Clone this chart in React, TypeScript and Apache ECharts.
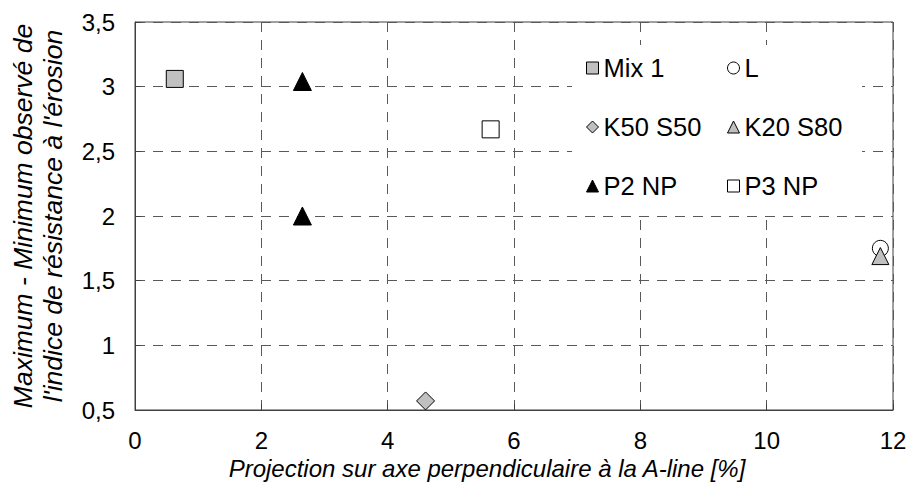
import React, { useEffect, useRef } from "react";
import * as echarts from "echarts";

const FONT = "'Liberation Sans', Arial, sans-serif";

const mix1: [number, number][] = [[0.63, 3.06]];
const lSeries: [number, number][] = [[11.8, 1.75]];
const k50s50: [number, number][] = [[4.6, 0.57]];
const k20s80: [number, number][] = [[11.8, 1.69]];
const p2np: [number, number][] = [[2.65, 3.04], [2.65, 2.0]];
const p3np: [number, number][] = [[5.63, 2.67]];

const legendCol1 = ["Mix 1", "K50 S50", "P2 NP"];
const legendCol2 = ["L", "K20 S80", "P3 NP"];

const xTitle = "Projection sur axe perpendiculaire à la A-line [%]";
const yTitle = "Maximum - Minimum observé de\nl'indice de résistance à l'érosion";

export default function App() {
  const ref = useRef<HTMLDivElement>(null);
  useEffect(() => {
    if (!ref.current) return;
    const chart = echarts.init(ref.current, undefined, { renderer: "svg" });
    const gridColor = "#595959";
    const legendCommon = {
      orient: "vertical" as const,
      itemWidth: 12,
      itemHeight: 12,
      itemGap: 33,
      itemStyle: { borderWidth: 1 },
      textStyle: { fontFamily: FONT, fontSize: 25.5, color: "#000", lineHeight: 25.5 },
      top: 50,
    };
    chart.setOption({
      animation: false,
      backgroundColor: "#fff",
      grid: {
        left: 135,
        right: 17,
        top: 22,
        bottom: 85,
        show: true,
        borderColor: "#404040",
        borderWidth: 1,
      },
      graphic: [
        {
          type: "rect",
          z: 1,
          shape: { x: 572, y: 45, width: 290, height: 167 },
          style: { fill: "#fff" },
        },
      ],
      legend: [
        { ...legendCommon, data: legendCol1, left: 581, itemTextGap: 8 } as any,
        { ...legendCommon, data: legendCol2, left: 722, itemTextGap: 8 } as any,
      ].map((l) => {
        const { itemTextGap, ...rest } = l;
        return rest;
      }),
      xAxis: {
        type: "value",
        min: 0,
        max: 12,
        interval: 2,
        name: xTitle,
        nameLocation: "middle",
        nameGap: 46,
        nameTextStyle: {
          fontFamily: FONT,
          fontSize: 24,
          fontStyle: "italic",
          color: "#000",
          padding: [0, 54, 0, 0],
        },
        axisLine: { show: true, lineStyle: { color: "#404040", width: 1 } },
        axisTick: { show: true, inside: true, length: 6, lineStyle: { color: "#404040" } },
        axisLabel: { fontFamily: FONT, fontSize: 24, color: "#000", margin: 18 },
        splitLine: { show: true, lineStyle: { color: gridColor, type: [10, 8], width: 1 } },
      },
      yAxis: {
        type: "value",
        min: 0.5,
        max: 3.5,
        interval: 0.5,
        name: yTitle,
        nameLocation: "middle",
        nameGap: 67,
        nameTextStyle: {
          fontFamily: FONT,
          fontSize: 26.5,
          fontStyle: "italic",
          color: "#000",
          lineHeight: 30,
          align: "center",
        },
        axisLine: { show: true, lineStyle: { color: "#404040", width: 1 } },
        axisTick: { show: true, inside: true, length: 6, lineStyle: { color: "#404040" } },
        axisLabel: {
          fontFamily: FONT,
          fontSize: 24,
          color: "#000",
          margin: 20,
          formatter: (v: number) => String(v).replace(".", ","),
        },
        splitLine: { show: true, lineStyle: { color: gridColor, type: [10, 8], width: 1 } },
      },
      series: [
        {
          name: "Mix 1",
          type: "scatter",
          data: mix1,
          symbol: "rect",
          symbolSize: 17,
          itemStyle: { color: "#c0c0c0", borderColor: "#000", borderWidth: 1, opacity: 1 },
        },
        {
          name: "L",
          type: "scatter",
          data: lSeries,
          symbol: "circle",
          symbolSize: 16,
          itemStyle: { color: "#fff", borderColor: "#000", borderWidth: 1, opacity: 1 },
        },
        {
          name: "K50 S50",
          type: "scatter",
          data: k50s50,
          symbol: "diamond",
          symbolSize: 18,
          itemStyle: { color: "#c0c0c0", borderColor: "#000", borderWidth: 1, opacity: 1 },
        },
        {
          name: "K20 S80",
          type: "scatter",
          data: k20s80,
          symbol: "triangle",
          symbolSize: 17,
          itemStyle: { color: "#c0c0c0", borderColor: "#000", borderWidth: 1, opacity: 1 },
        },
        {
          name: "P2 NP",
          type: "scatter",
          data: p2np,
          symbol: "triangle",
          symbolSize: 18,
          itemStyle: { color: "#000", borderColor: "#000", borderWidth: 1, opacity: 1 },
        },
        {
          name: "P3 NP",
          type: "scatter",
          data: p3np,
          symbol: "rect",
          symbolSize: 17,
          itemStyle: { color: "#fff", borderColor: "#000", borderWidth: 1, opacity: 1 },
        },
      ],
    });
    return () => chart.dispose();
  }, []);
  return <div ref={ref} style={{ width: 910, height: 495, position: "absolute", left: 0, top: 0 }} />;
}
